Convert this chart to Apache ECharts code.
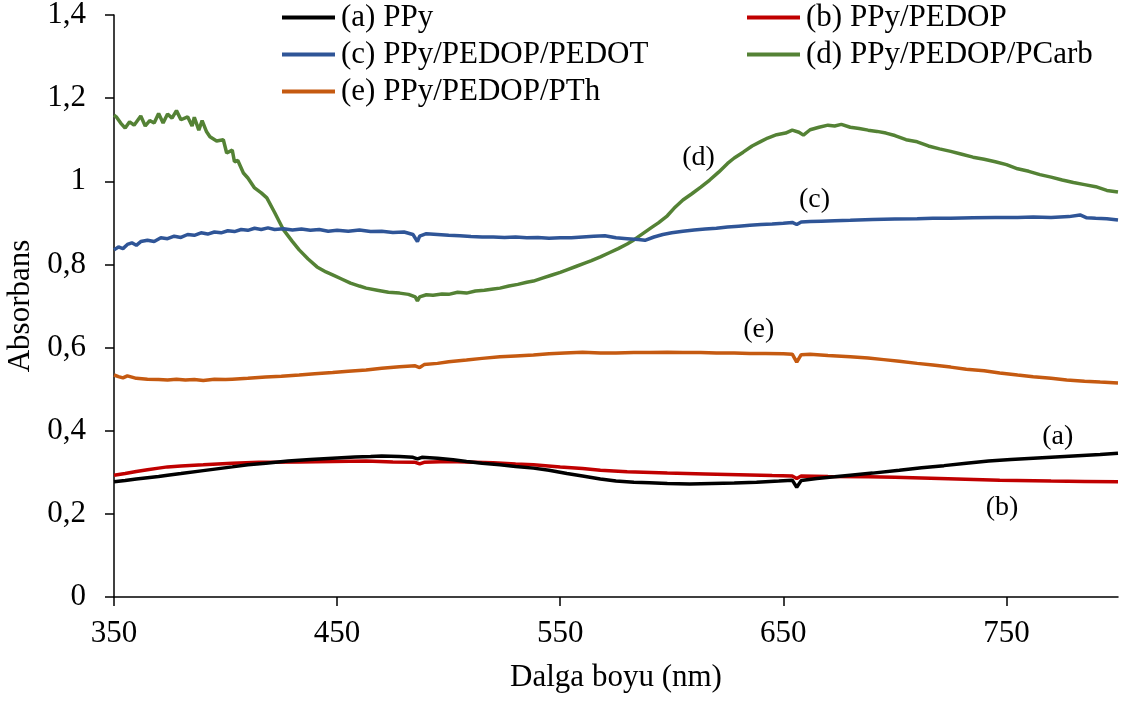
<!DOCTYPE html>
<html>
<head>
<meta charset="utf-8">
<script src="https://cdn.jsdelivr.net/npm/echarts@6/dist/echarts.min.js"></script>
<style>
  html, body { margin: 0; padding: 0; background: #fff; }
  #chart { width: 1125px; height: 701px; }
</style>
</head>
<body>
<div id="chart"></div>
<script>
// UV-Vis absorption spectra of PPy-based films

// (a) PPy
const ppyNm  = [350,355,360,365,370,374,380,390,403,410,418,428,438,448,458,465,470,478,484,486,488,495,502,508,515,523,530,538,545,553,560,568,575,583,590,598,608,618,628,638,648,654,656,658,665,673,680,690,702,712,722,732,742,752,762,772,782,792,800];
const ppyAbs = [0.277,0.280,0.284,0.287,0.290,0.293,0.297,0.304,0.313,0.318,0.322,0.327,0.331,0.334,0.337,0.338,0.339,0.338,0.336,0.332,0.336,0.334,0.330,0.326,0.322,0.318,0.314,0.310,0.305,0.297,0.291,0.284,0.279,0.276,0.275,0.273,0.272,0.273,0.274,0.276,0.279,0.281,0.264,0.280,0.285,0.289,0.293,0.298,0.305,0.311,0.316,0.322,0.327,0.331,0.334,0.337,0.340,0.343,0.346];

// (b) PPy/PEDOP
const pedopNm  = [350,355,360,365,370,374,380,390,403,415,433,448,463,475,485,487,489,500,508,520,530,538,550,560,568,580,598,615,630,645,654,656,658,670,688,700,720,747,770,785,800];
const pedopAbs = [0.293,0.297,0.302,0.306,0.310,0.313,0.315,0.318,0.322,0.324,0.325,0.326,0.327,0.325,0.324,0.320,0.324,0.326,0.325,0.323,0.320,0.318,0.313,0.309,0.305,0.301,0.298,0.296,0.294,0.292,0.291,0.285,0.291,0.290,0.289,0.288,0.285,0.281,0.279,0.278,0.277];

// (c) PPy/PEDOP/PEDOT
const pedotNm  = [350,352,354,356,358,360,362,365,368,371,374,377,380,383,386,389,392,395,398,401,404,407,410,413,416,419,422,426,430,434,438,442,446,450,455,460,465,470,475,480,484,486,487,490,495,500,505,510,515,520,525,530,535,540,545,550,555,560,565,570,575,580,585,588,592,596,600,605,610,615,620,625,630,635,640,645,650,654,656,658,662,667,673,680,690,700,710,717,725,735,745,755,762,770,778,783,786,790,795,800];
const pedotAbs = [0.835,0.842,0.838,0.848,0.852,0.846,0.855,0.858,0.855,0.864,0.862,0.868,0.865,0.872,0.870,0.876,0.873,0.878,0.876,0.881,0.879,0.884,0.882,0.887,0.884,0.888,0.884,0.886,0.883,0.885,0.882,0.884,0.880,0.882,0.880,0.883,0.879,0.880,0.877,0.878,0.872,0.855,0.868,0.874,0.872,0.870,0.869,0.867,0.866,0.866,0.865,0.866,0.864,0.865,0.863,0.864,0.864,0.866,0.868,0.869,0.864,0.862,0.860,0.858,0.866,0.872,0.876,0.880,0.883,0.885,0.887,0.890,0.892,0.894,0.896,0.897,0.899,0.901,0.896,0.902,0.903,0.904,0.905,0.906,0.908,0.909,0.910,0.911,0.911,0.912,0.913,0.913,0.914,0.913,0.915,0.919,0.912,0.911,0.910,0.907];

// (d) PPy/PEDOP/PCarb
const pcarbNm  = [350,351,353,355,357,359,362,364,366,368,370,372,374,376,378,380,383,385,386,388,389.5,391.5,393,396,399,400.5,403,404,405.5,408,410,413,416,418.5,422,426,430,433,437,441,445,448,452,456,460,463,468,473,478,482,485,486,487,490,493,497,500,504,508,512,516,520,523,527,531,535,538,542,546,550,553,557,561,564,568,572,576,580,583,587,591,594,598,601,605,609,613,617,621,625,628,632,636,640,643,647,651,654,657,659,662,666,670,673,676,680,684,688,692,696,700,705,710,715,720,725,730,735,740,745,750,755,760,765,770,775,780,785,790,795,800];
const pcarbAbs = [1.159,1.155,1.140,1.128,1.143,1.135,1.157,1.133,1.146,1.140,1.163,1.140,1.162,1.152,1.170,1.148,1.155,1.133,1.154,1.123,1.146,1.119,1.107,1.097,1.100,1.068,1.075,1.047,1.050,1.020,1.008,0.984,0.972,0.960,0.925,0.883,0.855,0.835,0.813,0.794,0.782,0.775,0.765,0.755,0.748,0.743,0.738,0.733,0.731,0.728,0.722,0.712,0.722,0.727,0.726,0.729,0.728,0.733,0.731,0.736,0.738,0.741,0.743,0.748,0.752,0.757,0.760,0.767,0.774,0.781,0.787,0.795,0.803,0.809,0.818,0.828,0.838,0.849,0.859,0.874,0.889,0.900,0.917,0.935,0.955,0.970,0.986,1.003,1.022,1.043,1.056,1.070,1.085,1.096,1.104,1.112,1.116,1.123,1.118,1.111,1.124,1.130,1.135,1.133,1.137,1.130,1.127,1.123,1.120,1.116,1.110,1.100,1.095,1.085,1.078,1.072,1.065,1.058,1.053,1.047,1.040,1.030,1.024,1.016,1.010,1.003,0.997,0.992,0.987,0.978,0.974];

// (e) PPy/PEDOP/PTh
const pthNm  = [350,352,354,356,360,365,370,374,378,382,386,390,395,400,403,410,418,425,433,440,448,455,463,470,478,485,487,489,495,500,508,515,523,530,538,545,552,560,568,575,583,590,598,605,613,620,628,635,642,650,654,656,658,662,670,680,688,695,702,710,717,725,732,740,747,755,762,770,777,785,792,800];
const pthAbs = [0.534,0.530,0.527,0.532,0.526,0.524,0.523,0.522,0.524,0.522,0.523,0.521,0.524,0.523,0.524,0.526,0.529,0.531,0.534,0.537,0.540,0.543,0.546,0.550,0.554,0.556,0.552,0.559,0.562,0.566,0.570,0.574,0.578,0.580,0.582,0.585,0.587,0.589,0.587,0.587,0.588,0.588,0.589,0.588,0.588,0.587,0.587,0.586,0.586,0.585,0.584,0.565,0.583,0.584,0.581,0.578,0.575,0.571,0.567,0.562,0.558,0.553,0.548,0.544,0.539,0.534,0.530,0.526,0.522,0.519,0.517,0.515];

const seriesNames = ['(a) PPy', '(b) PPy/PEDOP', '(c) PPy/PEDOP/PEDOT', '(d) PPy/PEDOP/PCarb', '(e) PPy/PEDOP/PTh'];
const seriesColors = ['#000000', '#C00000', '#2F5597', '#548235', '#C55A11'];
const seriesNm = [ppyNm, pedopNm, pedotNm, pcarbNm, pthNm];
const seriesAbs = [ppyAbs, pedopAbs, pedotAbs, pcarbAbs, pthAbs];

// curve tags placed in data units (wavelength, absorbance)
const tagTexts = ['(a)', '(b)', '(c)', '(d)', '(e)'];
const tagNm    = [773, 748, 664, 612, 639];
const tagAbs   = [0.385, 0.216, 0.955, 1.056, 0.642];

const xTicks = [350, 450, 550, 650, 750];

const FONT = "'Liberation Serif', 'Times New Roman', serif";

const chart = echarts.init(document.getElementById('chart'), null, { renderer: 'canvas' });

const series = seriesNames.map((name, i) => ({
  name: name,
  type: 'line',
  showSymbol: false,
  symbol: 'none',
  z: i === 0 ? 6 : 5 - i,
  lineStyle: { color: seriesColors[i], width: 3.5 },
  itemStyle: { color: seriesColors[i] },
  data: seriesNm[i].map((x, k) => [x, seriesAbs[i][k]]),
  markPoint: {
    symbol: 'circle',
    symbolSize: 0,
    silent: true,
    label: {
      show: true,
      position: 'inside',
      formatter: tagTexts[i],
      color: '#000',
      fontFamily: FONT,
      fontSize: 28
    },
    data: [{ coord: [tagNm[i], tagAbs[i]] }]
  }
}));

const legendCommon = {
  orient: 'vertical',
  top: 2,
  padding: 0,
  icon: 'rect',
  itemWidth: 53,
  itemHeight: 4,
  itemGap: 6,
  textStyle: { fontFamily: FONT, fontSize: 31, color: '#000', padding: [0, 0, 0, 1] }
};

chart.setOption({
  animation: false,
  backgroundColor: '#fff',
  grid: { left: 114, right: 7, top: 15, bottom: 104, containLabel: false, outerBoundsMode: 'none' },
  legend: [
    Object.assign({}, legendCommon, { left: 282, data: [seriesNames[0], seriesNames[2], seriesNames[4]] }),
    Object.assign({}, legendCommon, { left: 747, data: [seriesNames[1], seriesNames[3]] })
  ],
  xAxis: {
    type: 'value',
    min: 350,
    max: 800,
    name: 'Dalga boyu (nm)',
    nameLocation: 'middle',
    nameGap: 65,
    nameTextStyle: { fontFamily: FONT, fontSize: 31, color: '#000' },
    axisLine: { show: true, lineStyle: { color: '#000', width: 1.5 } },
    axisTick: { show: true, inside: false, length: 9, customValues: xTicks, lineStyle: { color: '#000', width: 1.5 } },
    axisLabel: { customValues: xTicks, margin: 21, fontFamily: FONT, fontSize: 31, color: '#000' },
    splitLine: { show: false }
  },
  yAxis: {
    type: 'value',
    min: 0,
    max: 1.4,
    interval: 0.2,
    name: 'Absorbans',
    nameLocation: 'middle',
    nameGap: 76,
    nameTextStyle: { fontFamily: FONT, fontSize: 31, color: '#000' },
    axisLine: { show: true, lineStyle: { color: '#000', width: 1.5 } },
    axisTick: { show: true, inside: false, length: 9, lineStyle: { color: '#000', width: 1.5 } },
    axisLabel: {
      margin: 28,
      fontFamily: FONT,
      fontSize: 31,
      color: '#000',
      formatter: v => String(Math.round(v * 10) / 10).replace('.', ',')
    },
    splitLine: { show: false }
  },
  series: series
});
</script>
</body>
</html>
